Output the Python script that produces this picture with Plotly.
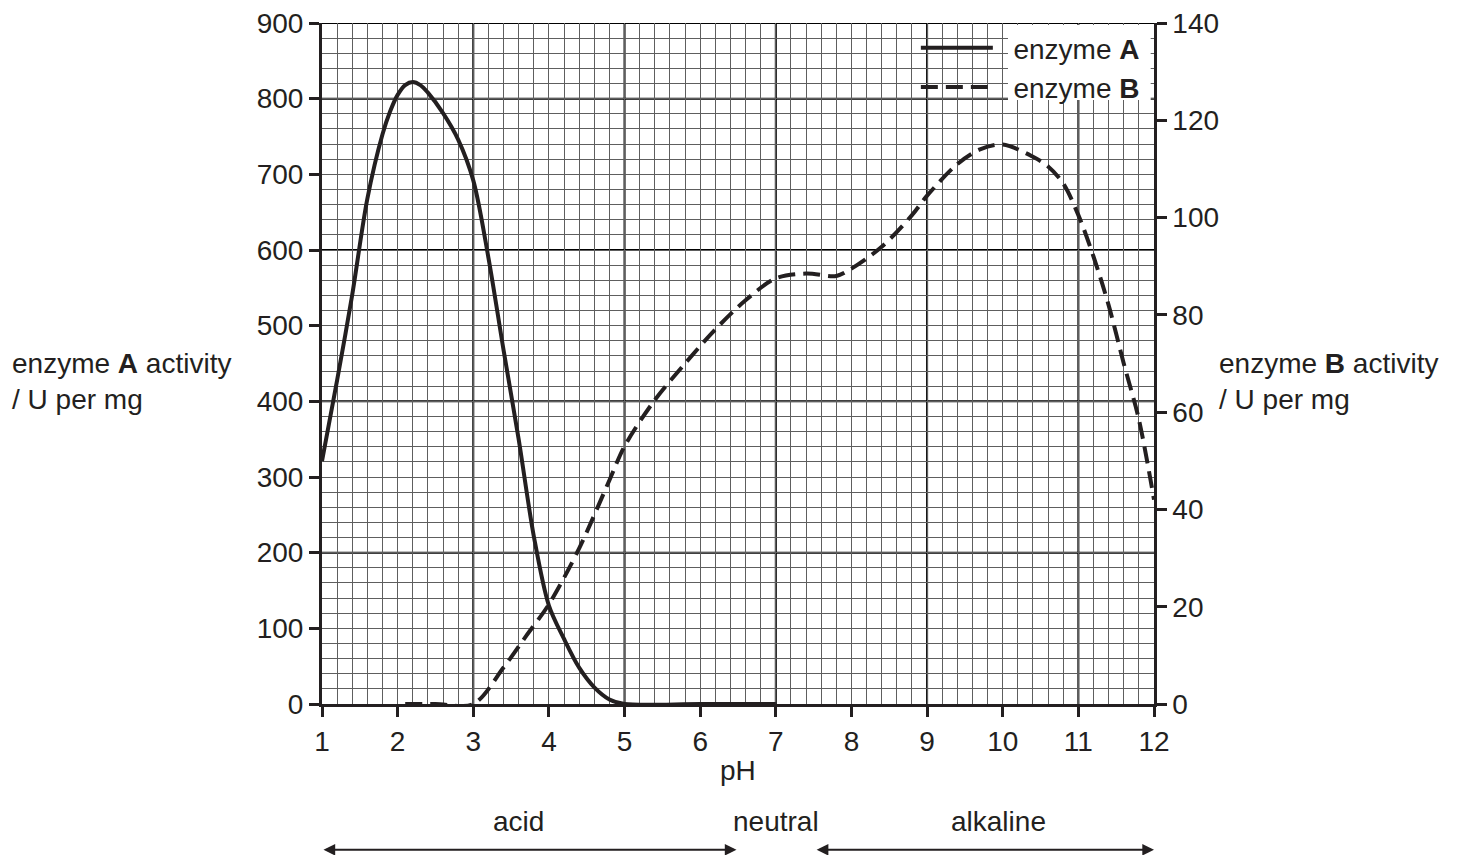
import plotly.graph_objects as go

# ---- data ----
ph_a = [1.0, 1.2, 1.4, 1.6, 1.8, 1.9, 2.0, 2.1, 2.2, 2.3, 2.4, 2.6, 2.8, 3.0, 3.2,
        3.4, 3.6, 3.8, 4.0, 4.2, 4.4, 4.6, 4.8, 5.0, 6.0, 7.0]
act_a = [321, 428, 541, 668, 753, 783, 805, 818, 822, 818, 808, 781, 746, 692, 590,
         468, 350, 222, 130, 86, 48, 22, 6, 0, 0, 0]

ph_b = [2.1, 2.5, 3.0, 3.4, 3.7, 4.0, 4.4, 4.8, 5.0, 5.4, 5.8, 6.2, 6.6, 7.0, 7.4,
        7.8, 8.0, 8.4, 8.8, 9.0, 9.4, 9.7, 10.0, 10.4, 10.6, 10.8, 11.0, 11.2, 11.4,
        11.6, 11.8, 12.0]
act_b = [0, 0, 0, 7.5, 14, 20.5, 32, 46, 53, 62.5, 70, 77, 83, 87.5, 88.5,
         88, 89.5, 94, 100.5, 104.5, 111, 114, 115, 112.5, 110.5, 107, 100.5, 92, 82,
         70, 58.5, 42]

x_ticks = list(range(1, 13))
y_left_ticks = list(range(0, 901, 100))
y_right_ticks = list(range(0, 141, 20))
major_x_grid = [3, 5, 7, 9, 11]
major_y_grid = [200, 400, 600, 800, 900]

regions = ["acid", "neutral", "alkaline"]
region_x = [3.6, 7.0, 9.95]
arrow_spans = [(1.0, 6.48), (7.52, 12.0)]

FONT = "Liberation Sans, Arial, sans-serif"
INK = "#231f20"
FS = 28
MINOR = "#5e5e5e"

fig = go.Figure()
fig.add_trace(go.Scatter(
    x=ph_a, y=act_a, name="\u00a0\u00a0enzyme <b>A</b>", mode="lines",
    line=dict(color=INK, width=4, shape="spline", smoothing=0.9),
    yaxis="y"))
fig.add_trace(go.Scatter(
    x=ph_b, y=act_b, name="\u00a0\u00a0enzyme <b>B</b>", mode="lines",
    line=dict(color=INK, width=4, shape="spline", smoothing=0.9, dash="17px,8px"),
    yaxis="y2"))

shapes = []
for gx in major_x_grid:
    shapes.append(dict(type="line", xref="x", yref="paper", x0=gx, x1=gx, y0=0, y1=1,
                       line=dict(color="#000000", width=2), layer="between"))
for gy in major_y_grid:
    shapes.append(dict(type="line", xref="paper", yref="y", x0=0, x1=1, y0=gy, y1=gy,
                       line=dict(color="#000000", width=2), layer="between"))
# white box behind legend text
shapes.append(dict(type="rect", xref="paper", yref="paper", x0=0.8245, x1=0.996,
                   y0=0.887, y1=0.997, fillcolor="white", line=dict(width=0),
                   layer="above"))

annotations = []
annotations.append(dict(text="enzyme <b>A</b> activity<br>/ U per mg", xref="paper", yref="paper",
                        x=-0.375, y=0.473, xanchor="left", yanchor="middle", align="left",
                        showarrow=False, font=dict(size=FS, family=FONT, color=INK)))
annotations.append(dict(text="enzyme <b>B</b> activity<br>/ U per mg", xref="paper", yref="paper",
                        x=1.0757, y=0.473, xanchor="left", yanchor="middle", align="left",
                        showarrow=False, font=dict(size=FS, family=FONT, color=INK)))
annotations.append(dict(text="pH", xref="paper", yref="paper", x=0.5, y=-0.098,
                        xanchor="center", yanchor="middle", showarrow=False,
                        font=dict(size=FS, family=FONT, color=INK)))
for label, rx in zip(regions, region_x):
    annotations.append(dict(text=label, xref="x", yref="paper", x=rx, y=-0.173,
                            xanchor="center", yanchor="middle", showarrow=False,
                            font=dict(size=FS, family=FONT, color=INK)))
for a0, a1 in arrow_spans:
    annotations.append(dict(text="", xref="x", yref="paper", x=a1, y=-0.214,
                            axref="x", ayref="pixel", ax=a0, ay=0,
                            showarrow=True, arrowside="end+start", arrowhead=2,
                            arrowsize=1.3, arrowwidth=1.8, arrowcolor=INK))

axis_common = dict(ticks="outside", ticklen=10, tickwidth=2.5, tickcolor=INK,
                   showline=True, linecolor=INK, zeroline=False, automargin=False,
                   tickfont=dict(size=FS, family=FONT, color=INK))

fig.update_layout(
    template="none",
    width=1463, height=855,
    margin=dict(l=322, r=309, t=23, b=151, pad=0),
    paper_bgcolor="white", plot_bgcolor="white",
    font=dict(family=FONT, size=FS, color=INK),
    showlegend=True,
    legend=dict(x=0.989, y=1.0, xanchor="right", yanchor="top",
                bgcolor="rgba(0,0,0,0)", borderwidth=0,
                font=dict(size=FS, family=FONT, color=INK),
                itemwidth=72, tracegroupgap=0),
    xaxis=dict(range=[1, 12], tickvals=x_ticks, linewidth=3,
               showgrid=True, gridcolor=MINOR, gridwidth=1,
               minor=dict(dtick=0.2, showgrid=True, gridcolor=MINOR, gridwidth=1, ticks=""),
               **axis_common),
    yaxis=dict(range=[0, 900], tickvals=y_left_ticks, linewidth=3,
               showgrid=True, gridcolor=MINOR, gridwidth=1,
               minor=dict(dtick=20, showgrid=True, gridcolor=MINOR, gridwidth=1, ticks=""),
               **axis_common),
    yaxis2=dict(range=[0, 140], tickvals=y_right_ticks, overlaying="y", side="right",
                linewidth=2.5, showgrid=False, **axis_common),
    shapes=shapes,
    annotations=annotations,
)

fig.write_html("out.html",
               config={"displayModeBar": False},
               post_script="document.body.style.margin='0px';document.body.style.overflow='hidden';")
